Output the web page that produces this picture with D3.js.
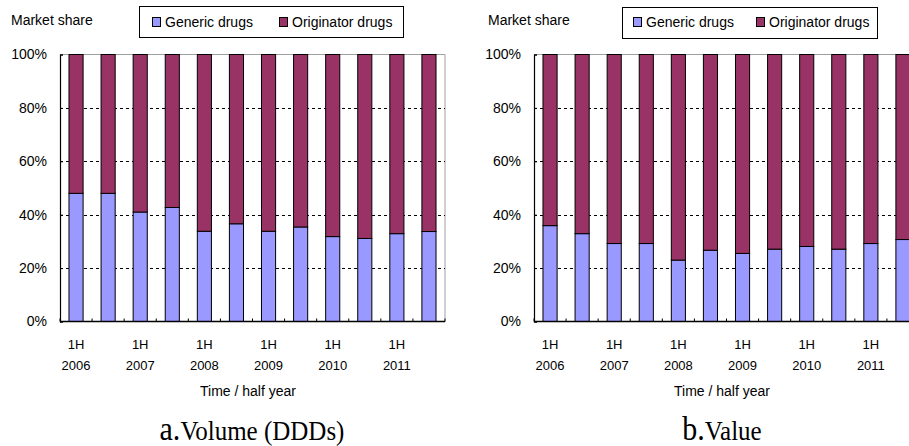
<!DOCTYPE html>
<html>
<head>
<meta charset="utf-8">
<script src="https://cdn.jsdelivr.net/npm/d3@7/dist/d3.min.js"></script>
<style>
  body { margin: 0; background: #fff; }
  svg { display: block; }
</style>
</head>
<body>
<script>
// half-year periods, one bar per period
var periods = ["1H 2006", "2H 2006", "1H 2007", "2H 2007", "1H 2008", "2H 2008",
  "1H 2009", "2H 2009", "1H 2010", "2H 2010", "1H 2011", "2H 2011"];
var tickYears = ["2006", "2007", "2008", "2009", "2010", "2011"];
var yTicks = [0, 20, 40, 60, 80, 100];
var seriesNames = ["Generic drugs", "Originator drugs"];

// a. volume (DDDs), share in %
var volumeGeneric = [48, 48, 41, 42.7, 33.8, 36.6, 33.8, 35.4, 31.8, 31.1, 32.9, 33.7];
var volumeOriginator = [52, 52, 59, 57.3, 66.2, 63.4, 66.2, 64.6, 68.2, 68.9, 67.1, 66.3];
// b. value, share in %
var valueGeneric = [35.9, 32.9, 29.2, 29.2, 23, 26.7, 25.5, 27.1, 28.1, 27.1, 29.2, 30.7];
var valueOriginator = [64.1, 67.1, 70.8, 70.8, 77, 73.3, 74.5, 72.9, 71.9, 72.9, 70.8, 69.3];

var colors = ["#9999FF", "#993366"];
var sans = "Liberation Sans, Arial, sans-serif";
var serif = "Liberation Serif, Times New Roman, serif";

var svg = d3.select("body").append("svg")
  .attr("width", 909)
  .attr("height", 446);

function drawChart(cfg, generic, originator) {
  var g = svg.append("g");

  var x = d3.scaleBand()
    .domain(periods)
    .range([cfg.left, cfg.right])
    .paddingInner(0.56)
    .paddingOuter(0.28);
  var y = d3.scaleLinear()
    .domain([0, 100])
    .range([321.5, 54.5]);

  // plot frame (top / right), light grey
  g.append("path")
    .attr("d", "M" + cfg.left + "," + y(100) + "H" + cfg.right + "V" + y(0))
    .attr("fill", "none")
    .attr("stroke", "#a0a0a0")
    .attr("stroke-width", 1);

  // dashed grid lines
  g.selectAll(".grid")
    .data(yTicks.filter(function (d) { return d > 0 && d < 100; }))
    .enter().append("line")
    .attr("x1", cfg.left)
    .attr("x2", cfg.right)
    .attr("y1", function (d) { return Math.round(y(d)) + 0.5; })
    .attr("y2", function (d) { return Math.round(y(d)) + 0.5; })
    .attr("stroke", "#000")
    .attr("stroke-dasharray", "3,3");

  // stacked bars
  var rows = periods.map(function (p, i) {
    return { period: p, g: generic[i], o: originator[i] };
  });
  var bars = g.selectAll(".bar").data(rows).enter().append("g");
  bars.append("rect")
    .attr("x", function (d) { return x(d.period); })
    .attr("width", x.bandwidth())
    .attr("y", function (d) { return y(d.g); })
    .attr("height", function (d) { return y(0) - y(d.g); })
    .attr("fill", colors[0])
    .attr("stroke", "#000")
    .attr("stroke-width", 1);
  bars.append("rect")
    .attr("x", function (d) { return x(d.period); })
    .attr("width", x.bandwidth())
    .attr("y", function (d) { return y(d.g + d.o); })
    .attr("height", function (d) { return y(d.g) - y(d.g + d.o); })
    .attr("fill", colors[1])
    .attr("stroke", "#000")
    .attr("stroke-width", 1);

  // y axis, ticks point into the plot
  var yAxis = d3.axisLeft(y)
    .tickValues(yTicks)
    .tickFormat(function (d) { return d + "%"; })
    .tickSize(-3)
    .tickPadding(13);
  var ga = g.append("g")
    .attr("transform", "translate(" + cfg.left + ",0)")
    .call(yAxis);
  ga.select(".domain").attr("stroke-width", 1.2);
  ga.selectAll("text")
    .style("font-family", sans)
    .style("font-size", "14px")
    .attr("fill", "#000");

  // x axis: short ticks pointing up at category boundaries
  var step = x.step();
  var bounds = d3.range(periods.length + 1).map(function (i) {
    return x(periods[0]) - x.paddingOuter() * step + i * step;
  });
  g.append("line")
    .attr("x1", cfg.left)
    .attr("x2", cfg.right)
    .attr("y1", y(0))
    .attr("y2", y(0))
    .attr("stroke", "#000")
    .attr("stroke-width", 1.5);
  g.selectAll(".xtick").data(bounds).enter().append("line")
    .attr("x1", function (d) { return d; })
    .attr("x2", function (d) { return d; })
    .attr("y1", y(0))
    .attr("y2", y(0) - 3)
    .attr("stroke", "#000");

  // x labels on first halves
  var firstHalves = periods.filter(function (p) { return p.indexOf("1H") === 0; });
  var lab = g.selectAll(".xlab").data(firstHalves).enter().append("text")
    .attr("text-anchor", "middle")
    .style("font-family", sans)
    .style("font-size", "13px");
  lab.append("tspan")
    .attr("x", function (d) { return x(d) + x.bandwidth() / 2; })
    .attr("y", 349)
    .text("1H");
  lab.append("tspan")
    .attr("x", function (d) { return x(d) + x.bandwidth() / 2; })
    .attr("y", 370)
    .text(function (d, i) { return tickYears[i]; });

  g.append("text")
    .attr("x", cfg.titleX)
    .attr("y", 396)
    .attr("text-anchor", "middle")
    .style("font-family", sans)
    .style("font-size", "14px")
    .text("Time / half year");

  // y title
  g.append("text")
    .attr("x", cfg.yTitleX)
    .attr("y", 25)
    .style("font-family", sans)
    .style("font-size", "14px")
    .text("Market share");

  // legend
  var lg = g.append("g");
  lg.append("rect")
    .attr("x", cfg.legend[0])
    .attr("y", cfg.legend[1])
    .attr("width", cfg.legend[2])
    .attr("height", cfg.legend[3])
    .attr("fill", "#fff")
    .attr("stroke", "#000");
  seriesNames.forEach(function (name, i) {
    lg.append("rect")
      .attr("x", cfg.legendItems[i] + 0.5)
      .attr("y", 17.5)
      .attr("width", 8)
      .attr("height", 9)
      .attr("fill", colors[i])
      .attr("stroke", "#000");
    lg.append("text")
      .attr("x", cfg.legendItems[i] + 13)
      .attr("y", 27)
      .style("font-family", sans)
      .style("font-size", "14px")
      .text(name);
  });

  // caption, slightly stretched vertically like the source
  var cap = g.append("text")
    .attr("transform", "translate(" + cfg.captionX + ",440) scale(1,1.12)")
    .attr("text-anchor", "middle")
    .style("font-family", serif);
  cap.append("tspan").style("font-size", "30px").text(cfg.captionLetter);
  cap.append("tspan").style("font-size", "25px").text(cfg.caption);
}

drawChart({
  left: 60, right: 445, titleX: 248, yTitleX: 11, captionX: 252,
  legend: [139.5, 6.5, 264, 31], legendItems: [152, 279],
  captionLetter: "a.", caption: "Volume (DDDs)"
}, volumeGeneric, volumeOriginator);

drawChart({
  left: 534, right: 919, titleX: 722, yTitleX: 488, captionX: 722,
  legend: [622.5, 7.5, 255, 31], legendItems: [633, 756],
  captionLetter: "b.", caption: "Value"
}, valueGeneric, valueOriginator);
</script>
</body>
</html>
